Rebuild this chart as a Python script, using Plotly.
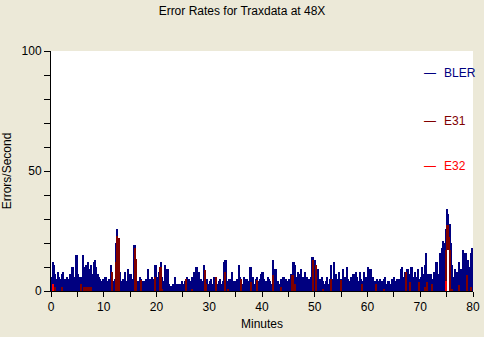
import plotly.graph_objects as go

# BLER values per 0.25-minute bin (4 per minute)
bler = [
    6, 12, 11, 7,   5, 8, 6, 5,   7, 8, 5, 4,   6, 5, 7, 4,   10, 6, 5, 15,
    7, 5, 6, 4,   15, 10, 11, 8,   12, 9, 11, 7,   12, 13, 10, 7,   6, 5, 4, 5,
    4, 6, 4, 3,   5, 11, 6, 4,   5, 20, 26, 18,   8, 4, 5, 3,   8, 4, 9, 5,
    7, 4, 5, 19,   5, 3, 4, 6,   5, 4, 3, 4,   5, 9, 4, 5,   6, 4, 5, 11,
    5, 6, 8, 12,   6, 4, 11, 5,   9, 3, 2, 2,   3, 2, 6, 3,   2, 3, 3, 4,
    3, 4, 3, 6,   5, 4, 3, 6,   8, 5, 10, 6,   8, 5, 4, 3,   11, 4, 5, 3,
    4, 5, 3, 6,   4, 6, 3, 4,   5, 3, 4, 12,   13, 4, 3, 5,   3, 8, 4, 3,
    4, 5, 11, 6,   5, 3, 6, 4,   5, 3, 4, 10,   4, 6, 3, 5,   6, 4, 5, 7,
    8, 5, 3, 4,   6, 5, 4, 3,   13, 5, 9, 4,   4, 3, 5, 4,   6, 3, 5, 4,
    5, 3, 7, 12,   12, 11, 6, 8,   7, 9, 5, 6,   8, 4, 6, 5,   4, 6, 14, 5,
    13, 5, 9, 4,   5, 6, 4, 3,   4, 6, 3, 5,   11, 5, 12, 6,   7, 5, 8, 4,
    5, 9, 4, 6,   10, 5, 4, 6,   5, 7, 4, 8,   6, 4, 8, 5,   4, 8, 5, 6,
    10, 7, 9, 5,   6, 4, 3, 5,   4, 5, 3, 4,   5, 6, 3, 4,   4, 3, 5, 4,
    6, 4, 5, 3,   5, 9, 10, 6,   8, 6, 9, 5,   7, 10, 5, 6,   8, 6, 9, 5,
    6, 10, 7, 11,   16, 6, 7, 5,   7, 5, 8, 6,   12, 6, 7, 16,   18, 21, 20, 26,
    34, 32, 28, 20,   11, 6, 9, 7,   8, 12, 6, 9,   17, 10, 16, 12,   13, 10, 16, 18,
]
bin_minutes = 0.25
# lowest BLER inside a bin where it never fell to zero (minute, floor)
bler_floor = [(75.0, 17), (75.25, 17)]

# E31 spikes: minute, low, high
e31_min = [0.7, 2.1, 5.7, 6.25, 6.5, 6.75, 7.0, 7.25, 7.5, 11.5, 12.4, 12.6, 12.8,
           15.9, 16.05, 17.0, 17.1, 19.8, 20.6, 20.9, 21.1, 25.6, 26.8, 29.2, 29.35,
           31.2, 32.9, 33.5, 36.1, 38.0, 39.1, 42.0, 43.6, 45.6, 45.8, 46.0, 46.2,
           49.6, 50.2, 51.6, 53.1, 55.0, 58.9, 61.6, 63.2, 67.3, 68.1, 69.8, 70.9,
           71.3, 72.3, 74.8, 75.0, 75.2, 75.4, 75.6, 76.1, 77.4, 78.9, 79.7]
e31_lo = [0] * 52 + [17, 17, 17] + [0] * 5
e31_hi = [1.5, 1.5, 3, 1.5, 1.5, 1.5, 1.5, 1.5, 1.5, 8, 12, 23, 22,
          18, 13.5, 2, 4.5, 6, 10, 10, 1, 5, 1, 8.6, 3,
          5.8, 8, 1, 5, 3.7, 4.5, 6.5, 1.7, 6.5, 6.5, 3, 3,
          12.8, 10.7, 1, 5, 4.5, 3, 3, 1, 8, 3.8, 3.8, 1.5,
          3.8, 3, 17, 27.4, 27.4, 22.5, 17, 1, 2.4, 6.5, 1.7]

# E32 spikes: minute, value
e32_min = [0.4, 74.9]
e32_val = [3, 4]

series_names = ["BLER", "E31", "E32"]

NAVY = "#000080"
MAROON = "#800000"
RED = "#FF0000"
BG = "#ECE9D8"
FONT = "Liberation Sans, Arial, sans-serif"
colors = [NAVY, MAROON, RED]

bler_x = [i * bin_minutes + bin_minutes / 2 for i in range(len(bler))]
floor_map = {round(m / bin_minutes): f for m, f in bler_floor}
bler_base = [floor_map.get(i, 0) for i in range(len(bler))]
bler_len = [v - b for v, b in zip(bler, bler_base)]

fig = go.Figure()
fig.add_trace(go.Bar(x=bler_x, y=bler_len, base=bler_base, width=bin_minutes * 1.3,
                     name=series_names[0],
                     marker=dict(color=NAVY, line=dict(width=0)),
                     showlegend=False, hoverinfo="skip"))
fig.add_trace(go.Bar(x=e31_min, y=[h - l for h, l in zip(e31_hi, e31_lo)], base=e31_lo,
                     width=0.19, name=series_names[1],
                     marker=dict(color=MAROON, line=dict(width=0)),
                     showlegend=False, hoverinfo="skip"))
fig.add_trace(go.Bar(x=e32_min, y=e32_val, width=0.19, name=series_names[2],
                     marker=dict(color=RED, line=dict(width=0)),
                     showlegend=False, hoverinfo="skip"))

# legend drawn inside the plot area (sample dash + coloured name)
legend_y = [0.908, 0.71, 0.521]
annotations = []
for name, col, ly in zip(series_names, colors, legend_y):
    annotations.append(dict(text="\u2014", x=(430 - 51) / 422, y=ly, xref="paper", yref="paper",
                            xanchor="center", yanchor="middle", showarrow=False,
                            font=dict(family=FONT, size=12, color=col)))
    annotations.append(dict(text=name, x=(442 - 51) / 422, y=ly, xref="paper", yref="paper",
                            xanchor="left", yanchor="middle", showarrow=False,
                            font=dict(family=FONT, size=12, color=col)))

fig.update_layout(
    width=484, height=337,
    margin=dict(l=51, r=11, t=51, b=46),
    paper_bgcolor=BG, plot_bgcolor="white",
    barmode="overlay", bargap=0, showlegend=False,
    font=dict(family=FONT, size=12, color="black"),
    title=dict(text="Error Rates for Traxdata at 48X", x=0.5, xref="container",
               y=1 - 11 / 337, yref="container", yanchor="middle", xanchor="center",
               font=dict(size=12, color="black")),
    annotations=annotations,
    xaxis=dict(range=[0, 80], tickvals=[0, 10, 20, 30, 40, 50, 60, 70, 80],
               ticks="outside", ticklen=5, tickcolor="black", showgrid=False,
               zeroline=False, showline=True, linecolor="black", linewidth=1,
               automargin=False, tickfont=dict(size=12),
               minor=dict(dtick=5, ticks="outside", ticklen=5, tickcolor="black", showgrid=False),
               title=dict(text="Minutes", standoff=6, font=dict(size=12))),
    yaxis=dict(range=[0, 100], tickvals=[0, 50, 100],
               ticks="outside", ticklen=6, tickcolor="black", showgrid=False,
               zeroline=False, showline=True, linecolor="black", linewidth=1,
               automargin=False, tickfont=dict(size=12),
               minor=dict(dtick=10, ticks="outside", ticklen=6, tickcolor="black", showgrid=False),
               title=dict(text="Errors/Second", standoff=8, font=dict(size=12))),
)

fig.write_html("out.html")
